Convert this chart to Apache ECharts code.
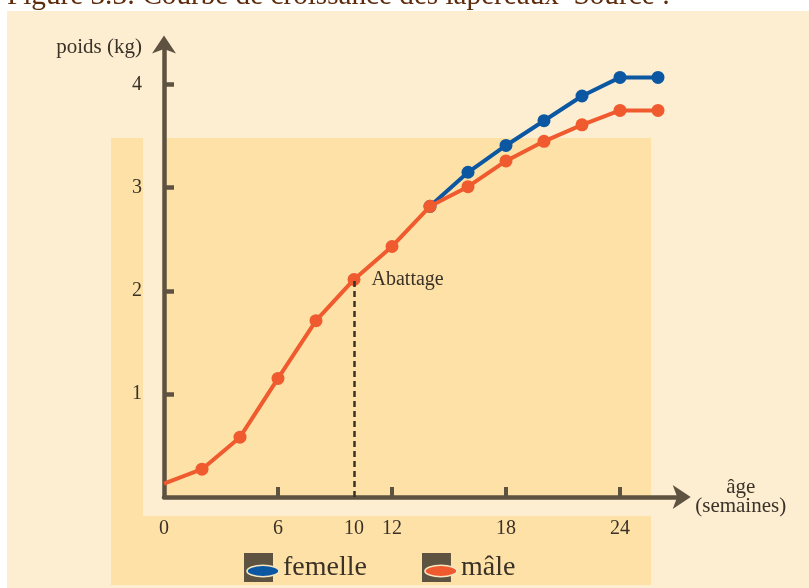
<!DOCTYPE html>
<html>
<head>
<meta charset="utf-8">
<script src="https://cdn.jsdelivr.net/npm/echarts@6/dist/echarts.min.js"></script>
<style>
  html, body { margin: 0; padding: 0; background: #ffffff; }
  #chart { width: 809px; height: 588px; }
</style>
</head>
<body>
<div id="chart"></div>
<script>
// ---- data ----
const figureTitle = 'Figure 3.3: Courbe de croissance des lapereaux  Source :';
const yAxisName = 'poids (kg)';
const xAxisName = 'âge\n(semaines)';
const seriesNames = ['femelle', 'mâle'];
const maleWeeks = [0, 2, 4, 6, 8, 10, 12, 14, 16, 18, 20, 22, 24, 26];
const maleWeight = [0.13, 0.27, 0.58, 1.15, 1.71, 2.11, 2.43, 2.82, 3.01, 3.26, 3.45, 3.61, 3.75, 3.75];
const femaleWeeks = [14, 16, 18, 20, 22, 24, 26];
const femaleWeight = [2.82, 3.15, 3.41, 3.65, 3.89, 4.07, 4.07];
const xTickLabels = [0, 6, 10, 12, 18, 24];
const xTickMarks = [6, 12, 18, 24];
const yTickLabels = [1, 2, 3, 4];
const slaughterWeek = 10;
const slaughterLabel = 'Abattage';

// ---- styles ----
const FONT = '"Liberation Serif", "Times New Roman", serif';
const TEXT = '#3a3127';
const AXIS = '#5e5240';
const COLORS = { femelle: '#0b57a2', 'mâle': '#ef5a2e' };

function legendIcon(color) {
  const svg = "<svg xmlns='http://www.w3.org/2000/svg' width='36' height='29' viewBox='0 0 36 29'>" +
    "<rect x='0' y='0' width='29' height='29' fill='" + AXIS + "'/>" +
    "<ellipse cx='19' cy='18' rx='16' ry='5.8' fill='" + color + "' stroke='#f6e6bf' stroke-width='1.6'/></svg>";
  return 'image://data:image/svg+xml;charset=utf-8,' + encodeURIComponent(svg);
}

const slaughterIdx = maleWeeks.indexOf(slaughterWeek);
const maleData = maleWeeks.map((w, i) => {
  const item = { value: [w, maleWeight[i]] };
  if (i === 0) item.symbol = 'none';
  if (i === slaughterIdx) {
    item.label = {
      show: true, formatter: slaughterLabel, position: 'right', distance: 11,
      fontFamily: FONT, fontSize: 20, color: TEXT
    };
  }
  return item;
});
const femaleData = femaleWeeks.map((w, i) => [w, femaleWeight[i]]);

const chart = echarts.init(document.getElementById('chart'), null, { renderer: 'canvas' });

chart.setOption({
  animation: false,
  backgroundColor: '#ffffff',
  title: {
    text: figureTitle, left: 7, top: -18.5, padding: 0,
    textStyle: { fontFamily: FONT, fontSize: 29.2, fontWeight: 'normal', color: '#5e2c0c' }
  },
  graphic: [
    { type: 'rect', z: -10, silent: true, shape: { x: 7, y: 11, width: 802, height: 577 }, style: { fill: '#fdeed2' } },
    { type: 'rect', z: -9, silent: true, shape: { x: 111, y: 138, width: 540, height: 447 }, style: { fill: '#fde1a7' } },
    { type: 'rect', z: -8, silent: true, shape: { x: 143, y: 138, width: 21, height: 378 }, style: { fill: '#fdeed2' } },
    { type: 'rect', z: -8, silent: true, shape: { x: 143, y: 497, width: 508, height: 19 }, style: { fill: '#fdeed2' } }
  ],
  grid: { left: 164, right: 126.3, top: 43.4, bottom: 91, containLabel: false },
  legend: {
    left: 244, top: 553, padding: 0, itemWidth: 36, itemHeight: 29, itemGap: 55,
    data: seriesNames.map(n => ({ name: n, icon: legendIcon(COLORS[n]) })),
    textStyle: { fontFamily: FONT, fontSize: 28, color: TEXT, padding: [0, 0, 0, -2] }
  },
  xAxis: {
    type: 'value', min: 0, max: 27.3,
    name: xAxisName, nameLocation: 'end', nameGap: 58,
    nameTextStyle: { fontFamily: FONT, fontSize: 21, color: TEXT, align: 'center', verticalAlign: 'middle', lineHeight: 19 },
    axisLine: { show: true, onZero: false, symbol: ['none', 'arrow'], symbolSize: [18, 18], symbolOffset: [0, 8], lineStyle: { color: AXIS, width: 4.5 } },
    axisTick: { show: true, inside: true, length: 10, customValues: xTickMarks, lineStyle: { color: AXIS, width: 4 } },
    axisLabel: { show: true, customValues: xTickLabels, margin: 22, fontFamily: FONT, fontSize: 20, color: TEXT },
    splitLine: { show: false }
  },
  yAxis: {
    type: 'value', min: 0, max: 4.4,
    name: yAxisName, nameLocation: 'end', nameGap: -4,
    nameTextStyle: { fontFamily: FONT, fontSize: 21, color: TEXT, align: 'right', verticalAlign: 'middle', padding: [0, 22, 0, 0] },
    axisLine: { show: true, onZero: false, symbol: ['none', 'arrow'], symbolSize: [18, 18], symbolOffset: [0, 8], lineStyle: { color: AXIS, width: 4.5 } },
    axisTick: { show: true, inside: true, length: 10, customValues: yTickLabels, lineStyle: { color: AXIS, width: 4.5 } },
    axisLabel: { show: true, customValues: yTickLabels, margin: 22, fontFamily: FONT, fontSize: 20, color: TEXT },
    splitLine: { show: false }
  },
  series: [
    {
      name: seriesNames[0], type: 'line', data: femaleData, z: 3,
      symbol: 'circle', symbolSize: 13,
      lineStyle: { color: COLORS['femelle'], width: 4 },
      itemStyle: { color: COLORS['femelle'] }
    },
    {
      name: seriesNames[1], type: 'line', data: maleData, z: 4,
      symbol: 'circle', symbolSize: 13,
      lineStyle: { color: COLORS['mâle'], width: 4 },
      itemStyle: { color: COLORS['mâle'] },
      markLine: {
        silent: true, symbol: ['none', 'none'], label: { show: false },
        lineStyle: { color: '#3a3127', width: 2.5, type: [6, 4] },
        data: [[{ coord: [slaughterWeek, 0] }, { coord: [slaughterWeek, maleWeight[slaughterIdx]] }]]
      }
    }
  ]
});
</script>
</body>
</html>
